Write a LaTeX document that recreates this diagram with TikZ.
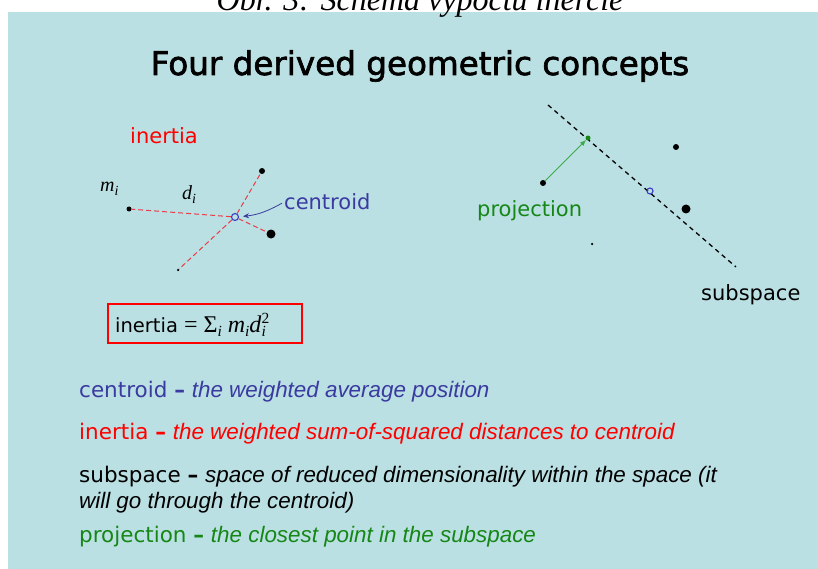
\documentclass[tikz,border=0pt]{standalone}
\usepackage{fontspec}
\setmainfont{DejaVu Sans}
\newfontfamily\titlefont[FakeBold=2]{DejaVu Sans}
\newfontfamily\arialfont{Liberation Sans}
\newfontfamily\timesfont{Liberation Serif}
\usetikzlibrary{arrows.meta}
\definecolor{bgc}{RGB}{186,224,227}
\definecolor{cblue}{RGB}{58,58,160}
\definecolor{cred}{RGB}{255,0,0}
\definecolor{dred}{RGB}{236,60,72}
\definecolor{cgreen}{RGB}{22,135,22}
\definecolor{agreen}{RGB}{60,170,70}
\definecolor{ccirc}{RGB}{60,60,200}
\tikzset{
  mpt/.style={circle, fill=black, inner sep=0pt, minimum size=#1},
  cen/.style={circle, draw=ccirc, line width=1.1pt, inner sep=0pt, minimum size=#1},
  lbl/.style={anchor=base west, inner sep=0pt, font=\fontsize{21}{25}\selectfont},
  body/.style={anchor=base west, inner sep=0pt, font=\fontsize{21.5}{25}\selectfont},
  rdash/.style={draw=dred, line width=1pt, dash pattern=on 5pt off 3pt},
  kdash/.style={draw=black, line width=1.3pt, dash pattern=on 4.5pt off 4pt},
}
\newcommand{\itx}[1]{{\arialfont\itshape\fontsize{22.4}{25}\selectfont #1}}
\newcommand{\sbi}{\raisebox{-4pt}{\fontsize{14}{16}\selectfont\textit{i}}}
\newcommand{\fsbi}{\raisebox{-4.5pt}{\fontsize{15.5}{16}\selectfont\textit{i}}}
\begin{document}
\begin{tikzpicture}[x=1pt,y=-1pt]
\useasboundingbox (0,0) rectangle (818,569);
\fill[bgc] (8,12) rectangle (818,569);
\node[anchor=base, inner sep=0pt, font=\timesfont\itshape\fontsize{32}{36}\selectfont] (caption) at (420,10.5) {Obr. 3: Schéma výpočtu inercie};
\node[anchor=base, inner sep=0pt, font=\titlefont\fontsize{32.6}{36}\selectfont] (title) at (420,75) {Four derived geometric concepts};

% left diagram
\node[lbl, text=cred] (inlabel) at (130,144) {inertia};
\node[anchor=base west, inner sep=0pt, font=\timesfont\itshape\fontsize{20}{24}\selectfont] (mlabel) at (100,192) {m\sbi};
\node[anchor=base west, inner sep=0pt, font=\timesfont\itshape\fontsize{20}{24}\selectfont] (dlabel) at (182,200) {d\sbi};
\node[cen=7pt] (c1) at (235,217) {};
\node[mpt=5pt] (a1) at (129,209) {};
\node[mpt=6pt] (a2) at (262,171) {};
\node[mpt=9pt] (a3) at (271,234) {};
\node[mpt=2.5pt] (a4) at (178,270) {};
\draw[rdash] (c1) -- (a1);
\draw[rdash] (c1) -- (a2);
\draw[rdash] (c1) -- (a3);
\draw[rdash] (c1) -- (a4);
\node[lbl, text=cblue] (clabel) at (284,210) {centroid};
\draw[cblue, line width=0.8pt, -{Stealth[length=6pt,width=5pt]}, shorten >=4pt] ([xshift=-2pt,yshift=-1pt]clabel.west) to[bend left=12] (c1);

% formula box
\node[draw=cred, line width=1.5pt, minimum width=194pt, minimum height=39pt, inner sep=0pt, anchor=north west] (fbox) at (107,303) {};
\node[anchor=base west, inner sep=0pt] (ftext) at (115,332) {\fontsize{19.5}{22}\selectfont inertia{\timesfont\fontsize{24}{26}\selectfont\ =\ Σ\fsbi\ \textit{m}\fsbi\textit{d}\rlap{\raisebox{9pt}{\fontsize{15.5}{16}\selectfont 2}}\fsbi}};

% right diagram
\coordinate (s1) at (548,105);
\coordinate (s2) at (736,267);
\draw[kdash] (s1) -- (s2);
\node[circle, fill=cgreen, inner sep=0pt, minimum size=5pt] (g1) at (588,138) {};
\node[mpt=6pt] (b1) at (543,183) {};
\node[mpt=6pt] (b2) at (676,147) {};
\node[mpt=9pt] (b3) at (686,209) {};
\node[mpt=2.5pt] (b4) at (592,244) {};
\node[cen=6pt] (c2) at (650,191) {};
\draw[agreen, line width=1pt, -{Latex[length=6pt,width=5pt]}] (b1) -- (g1);
\node[lbl, text=cgreen] (plabel) at (477,216) {projection};
\node[lbl, text=black] (slabel) at (701,300) {subspace};

% bottom text
\node[body, text=cblue] (t1) at (79,397) {centroid \textbf{–} \itx{the weighted average position}};
\node[body, text=cred] (t2) at (79,439) {inertia \textbf{–} \itx{the weighted sum-of-squared distances to centroid}};
\node[body, text=black] (t3) at (79,482) {subspace \textbf{–} \itx{space of reduced dimensionality within the space (it}};
\node[body, text=black] (t4) at (79,508) {\itx{will go through the centroid)}};
\node[body, text=cgreen] (t5) at (79,542) {projection \textbf{–} \itx{the closest point in the subspace}};
\end{tikzpicture}
\end{document}
